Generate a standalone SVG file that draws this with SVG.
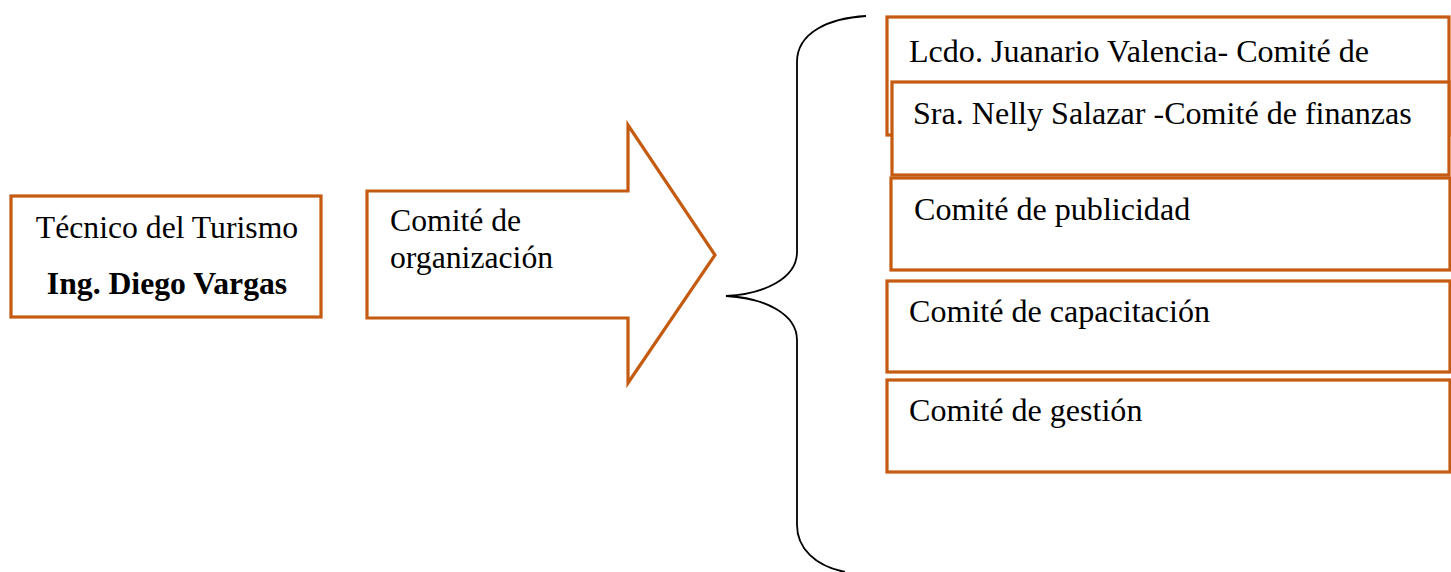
<svg xmlns="http://www.w3.org/2000/svg" width="1451" height="572" viewBox="0 0 1451 572">
  <style>
    .box { fill: #ffffff; stroke: #C55A11; stroke-width: 3.2; }
    .lbl { font-family: "Liberation Serif", "Times New Roman", serif; font-size: 31.7px; fill: #000000; }
    .wide { font-size: 32.1px; }
    .bold { font-weight: bold; }
    .brace { fill: none; stroke: #000000; stroke-width: 1.8; }
  </style>
  <rect width="1451" height="572" fill="#ffffff"/>

  <!-- Source node -->
  <g id="tecnico">
    <rect class="box" x="11" y="196" width="310" height="121"/>
    <text class="lbl" x="167" y="238" text-anchor="middle">Técnico del Turismo</text>
    <text class="lbl bold" x="167" y="294" text-anchor="middle">Ing. Diego Vargas</text>
  </g>

  <!-- Block arrow -->
  <g id="comite-organizacion">
    <path class="box" d="M367,191 H628 V125 L715,255 L628,383 V318 H367 Z"/>
    <text class="lbl" x="390" y="231">Comité de</text>
    <text class="lbl" x="390" y="268">organización</text>
  </g>

  <!-- Connectors -->
  <g id="connectors">
    <path class="brace" d="M866,16 C830,18 797,32 797,62 V252 C797,278 765,294 726,296 C765,298 797,314 797,340 V525 C797,548 815,566 845,572"/>
  </g>

  <!-- Committee boxes -->
  <g id="comite-juanario">
    <rect class="box" x="887" y="17" width="562" height="118"/>
    <text class="lbl wide" x="909" y="62">Lcdo. Juanario Valencia- Comité de</text>
  </g>
  <g id="comite-finanzas">
    <rect class="box" x="892" y="82" width="557" height="93"/>
    <text class="lbl wide" x="913" y="124">Sra. Nelly Salazar -Comité de finanzas</text>
  </g>
  <g id="comite-publicidad">
    <rect class="box" x="891" y="178" width="559" height="92"/>
    <text class="lbl wide" x="914" y="220">Comité de publicidad</text>
  </g>
  <g id="comite-capacitacion">
    <rect class="box" x="887" y="281" width="563" height="91"/>
    <text class="lbl wide" x="909" y="322">Comité de capacitación</text>
  </g>
  <g id="comite-gestion">
    <rect class="box" x="887" y="380" width="563" height="92"/>
    <text class="lbl wide" x="909" y="421">Comité de gestión</text>
  </g>
</svg>
